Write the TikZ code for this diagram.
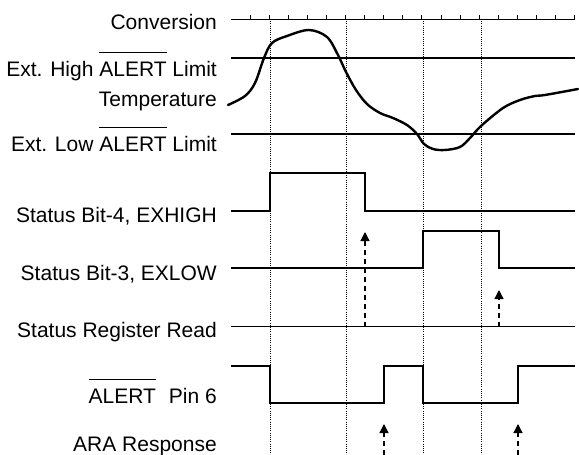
\documentclass[tikz,border=0pt]{standalone}
\usepackage{fontspec}
\setmainfont{Liberation Sans}
\usetikzlibrary{arrows.meta}
\newcommand\barred[1]{\begingroup\setbox0\hbox{#1}\rlap{\rule[1.1em]{\wd0}{0.8pt}}\box0\endgroup}
\begin{document}
\begin{tikzpicture}[x=1pt,y=-1pt,
  lab/.style={anchor=base east, inner sep=0pt, font=\fontsize{21}{25}\selectfont},
  sig/.style={line width=2pt, line join=miter},
  thinline/.style={line width=1pt},
  gridline/.style={line width=0.9pt, dash pattern=on 1pt off 1.2pt},
  evt/.style={line width=1.3pt, dash pattern=on 5pt off 4pt, -{Triangle[width=9pt,length=9pt]}},
  curve/.style={line width=2.4pt, line cap=round}]
\useasboundingbox (0,0) rectangle (579,455);

% labels
\node[lab] (lconv) at (217,30) {Conversion};
\node[lab] (lhigh) at (217,76) {Ext. High \barred{ALERT} Limit};
\node[lab] (ltemp) at (217,106) {Temperature};
\node[lab] (llow)  at (217,151) {Ext. Low \barred{ALERT} Limit};
\node[lab] (lb4)   at (217,222) {Status Bit-4, EXHIGH};
\node[lab] (lb3)   at (217,280) {Status Bit-3, EXLOW};
\node[lab] (lsrr)  at (217,337) {Status Register Read};
\node[lab] (lpin)  at (217,403) {\barred{ALERT}\hspace{0.62em}Pin 6};
\node[lab] (lara)  at (217,451) {ARA Response};

% dotted reference lines
\foreach \x in {270,346,423,481}
  \draw[gridline] (\x,19) -- (\x,455);

% conversion axis
\draw[thinline] (231,19) -- (575,19);
\foreach \k in {0,...,17}
  \draw[thinline] ({250+19.1*\k},19) -- ({250+19.1*\k},14.5);

% limits
\draw[sig] (231,58) -- (575,58);
\draw[sig] (231,134) -- (575,134);

% temperature
\draw[curve] plot[smooth, tension=0.55] coordinates {
 (228,105) (245,96) (255,83) (264,58) (272,43) (287,36) (309,30) (327,37) (338,55)
 (346,72) (356,90) (367,104) (380,113) (393,118) (407,125) (417,134) (424,144)
 (433,149) (445,150) (460,147) (470,138) (481,126) (503,108) (520,100) (535,96) (545,95) (578,89)};

% EXHIGH
\draw[sig] (231,211) -- (270,211) -- (270,173) -- (365,173) -- (365,211) -- (575,211);
% EXLOW
\draw[sig] (231,268) -- (423,268) -- (423,231) -- (499,231) -- (499,268) -- (575,268);
% Status register read
\draw[thinline] (231,326) -- (575,326);
% ALERT pin
\draw[sig] (231,366) -- (270,366) -- (270,403) -- (384,403) -- (384,366) -- (423,366)
  -- (423,403) -- (518,403) -- (518,366) -- (575,366);

% event arrows
\coordinate (r1) at (365,327); \coordinate (t1) at (365,232);
\coordinate (r2) at (499,327); \coordinate (t2) at (499,290);
\coordinate (a1) at (384,455); \coordinate (b1) at (384,424);
\coordinate (a2) at (518,455); \coordinate (b2) at (518,424);
\draw[evt] (r1) -- (t1);
\draw[evt] (r2) -- (t2);
\draw[evt] (a1) -- (b1);
\draw[evt] (a2) -- (b2);
\end{tikzpicture}
\end{document}
